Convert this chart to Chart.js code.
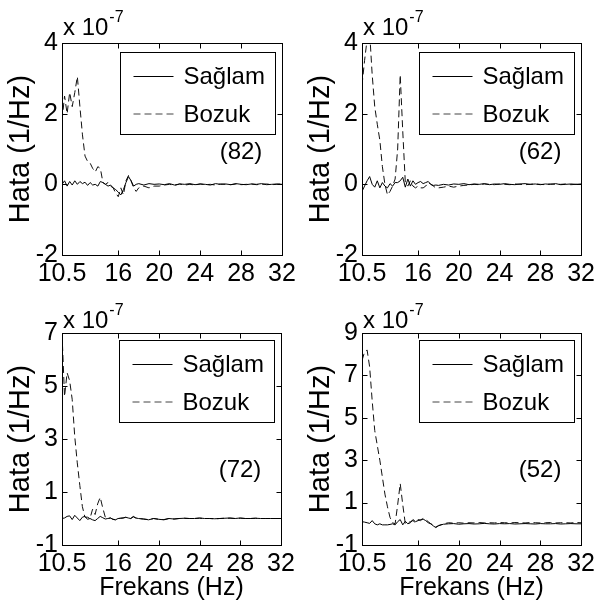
<!DOCTYPE html>
<html>
<head>
<meta charset="utf-8">
<script src="https://cdn.jsdelivr.net/npm/chart.js@4.4.1/dist/chart.umd.min.js"></script>
<style>
    html, body { margin: 0; padding: 0; background: #fff; }
    #wrap { position: relative; width: 599px; height: 612px; overflow: hidden; }
    #wrap canvas { position: absolute; }
</style>
</head>
<body>
<div id="wrap">
    <canvas id="c82" width="300" height="300" style="left:0;top:0"></canvas>
    <canvas id="c62" width="299" height="300" style="left:300px;top:0"></canvas>
    <canvas id="c72" width="300" height="312" style="left:0;top:300px"></canvas>
    <canvas id="c52" width="299" height="312" style="left:300px;top:300px"></canvas>
</div>
<script>
// ================================
// DATA (values x 1e-7, 1/Hz)
// ================================
const freq = [
    10.5, 10.75, 11, 11.25, 11.5, 11.75, 12, 12.25, 12.5, 12.75,
    13, 13.25, 13.5, 13.75, 14, 14.25, 14.5, 14.75, 15, 15.25,
    15.5, 15.75, 16, 16.25, 16.5, 16.75, 17, 17.25, 17.5, 17.75,
    18, 18.5, 19, 19.5, 20, 20.5, 21, 21.5, 22, 22.5,
    23, 23.5, 24, 24.5, 25, 25.5, 26, 26.5, 27, 27.5,
    28, 28.5, 29, 29.5, 30, 30.5, 31, 31.5, 32
];
const xTicks = [10.5, 16, 20, 24, 28, 32];
const seriesLabels = ['Sağlam', 'Bozuk'];
const panelTags = ['(82)', '(62)', '(72)', '(52)'];

const yTicks82 = [-2, 0, 2, 4];
const saglam82 = [
    0.00, 0.10, -0.05, 0.08, -0.02, 0.10, 0.00, 0.08, 0.02, 0.06,
    -0.03, 0.05, -0.02, 0.00, -0.05, 0.08, 0.05, 0.00, -0.05, -0.02,
    -0.10, -0.15, -0.22, -0.30, -0.15, 0.05, 0.22, 0.10, -0.05, 0.00,
    0.02, -0.02, 0.02, 0.00, 0.01, -0.01, 0.02, -0.02, 0.01, 0.00,
    0.02, -0.01, 0.01, 0.00, -0.02, 0.02, 0.00, 0.01, -0.01, 0.02,
    0.00, -0.01, 0.01, 0.00, 0.02, -0.01, 0.00, 0.01, 0.00
];
const bozuk82 = [
    1.80, 2.50, 2.00, 2.60, 2.20, 2.60, 3.05, 2.20, 1.40, 0.80,
    0.65, 0.60, 0.45, 0.35, 0.50, 0.45, 0.05, 0.00, 0.05, -0.05,
    -0.10, -0.25, -0.35, -0.10, -0.30, 0.10, 0.25, 0.10, -0.10, -0.20,
    -0.10, -0.05, -0.10, -0.05, -0.05, -0.02, 0.00, -0.03, 0.01, -0.02,
    0.00, -0.02, 0.01, -0.01, 0.00, -0.02, 0.01, 0.00, -0.01, 0.01,
    -0.01, 0.00, 0.01, -0.01, 0.00, 0.01, -0.01, 0.00, 0.01
];

const yTicks62 = [-2, 0, 2, 4];
const saglam62 = [
    -0.20, -0.05, 0.10, 0.22, 0.00, -0.08, 0.10, -0.10, 0.05, -0.05,
    -0.10, 0.02, -0.05, 0.05, 0.05, 0.10, 0.20, -0.08, 0.15, -0.05,
    0.10, 0.00, 0.05, 0.08, 0.02, 0.05, 0.08, 0.00, -0.03, -0.02,
    -0.03, 0.00, -0.02, 0.01, 0.00, 0.02, -0.01, 0.01, 0.00, 0.02,
    -0.01, 0.01, 0.00, 0.02, 0.00, -0.01, 0.01, 0.02, 0.00, 0.01,
    -0.01, 0.01, 0.00, 0.02, -0.01, 0.00, 0.01, 0.00, 0.01
];
const bozuk62 = [
    2.80, 3.50, 4.10, 4.30, 3.10, 2.20, 1.70, 1.25, 0.50, 0.00,
    -0.30, -0.20, -0.05, 0.15, 1.00, 3.10, 1.50, 0.05, -0.05, 0.10,
    -0.05, -0.10, -0.05, -0.10, -0.10, -0.05, 0.05, 0.00, -0.05, -0.10,
    -0.10, -0.08, -0.05, -0.08, -0.05, -0.03, -0.02, 0.00, -0.01, 0.01,
    0.00, -0.01, 0.01, 0.00, -0.01, 0.01, 0.00, -0.01, 0.00, 0.01,
    0.00, -0.01, 0.01, 0.00, 0.00, 0.01, -0.01, 0.00, 0.00
];

const yTicks72 = [-1, 1, 3, 5, 7];
const saglam72 = [
    0.00, 0.02, 0.08, 0.10, -0.04, 0.12, 0.02, -0.08, 0.05, 0.08,
    -0.03, 0.00, -0.05, -0.08, 0.00, 0.08, 0.03, -0.02, 0.00, 0.02,
    -0.03, -0.05, 0.00, 0.01, 0.02, 0.05, 0.02, 0.00, 0.08, 0.02,
    0.00, -0.02, -0.05, 0.00, -0.03, -0.05, 0.00, -0.02, 0.00, 0.01,
    0.00, 0.00, 0.02, 0.00, 0.00, -0.01, 0.00, 0.01, 0.02, 0.00,
    0.02, 0.00, 0.00, 0.01, 0.00, 0.00, 0.00, 0.00, 0.00
];
const bozuk72 = [
    7.00, 4.60, 5.50, 5.20, 4.50, 3.10, 2.10, 1.25, 0.45, 0.05,
    0.05, 0.00, 0.35, 0.15, 0.55, 0.80, 0.40, 0.05, 0.00, 0.02,
    -0.03, -0.05, 0.00, 0.01, 0.02, 0.04, 0.02, 0.00, 0.06, 0.02,
    0.00, -0.02, -0.04, 0.00, -0.03, -0.04, 0.00, -0.02, 0.00, 0.01,
    0.00, 0.00, 0.01, 0.00, 0.00, -0.01, 0.00, 0.01, 0.01, 0.00,
    0.01, 0.00, 0.00, 0.01, 0.00, 0.00, 0.00, 0.00, 0.00
];

const yTicks52 = [-1, 1, 3, 5, 7, 9];
const saglam52 = [
    0.10, 0.08, 0.05, 0.02, 0.15, 0.00, -0.05, 0.00, -0.05, -0.05,
    -0.05, -0.03, 0.00, -0.05, 0.10, 0.20, -0.05, 0.12, 0.00, 0.05,
    0.20, 0.10, 0.15, 0.20, 0.22, 0.15, 0.05, 0.00, -0.10, -0.18,
    -0.08, -0.02, 0.00, 0.01, -0.02, 0.00, 0.01, -0.01, 0.00, 0.02,
    0.00, -0.01, 0.01, 0.00, 0.01, -0.01, 0.00, 0.01, 0.00, -0.01,
    0.01, 0.00, 0.00, 0.01, -0.01, 0.00, 0.01, 0.00, 0.00
];
const bozuk52 = [
    7.70, 8.10, 8.20, 7.40, 5.80, 4.40, 3.70, 3.00, 2.20, 1.40,
    0.80, 0.30, 0.05, 0.00, 0.90, 1.90, 0.90, 0.00, 0.05, 0.10,
    0.15, 0.05, 0.20, 0.15, 0.25, 0.20, 0.10, 0.00, -0.05, -0.15,
    -0.10, 0.00, 0.05, 0.03, 0.05, 0.03, 0.05, 0.04, 0.06, 0.04,
    0.05, 0.04, 0.06, 0.05, 0.04, 0.06, 0.05, 0.04, 0.06, 0.05,
    0.04, 0.05, 0.06, 0.04, 0.05, 0.05, 0.04, 0.06, 0.05
];

// ================================
// LAYOUT
// ================================
const FONT = 'Arial, "Liberation Sans", sans-serif';

const panels = [
    { id: 'c82', tag: panelTags[0], saglam: saglam82, bozuk: bozuk82, yTicks: yTicks82,
      pad: { left: 0, top: 43, right: 18, bottom: 5 }, xHeight: 40, xTitle: false,
      tagDy: 109, expDy: -8, legDy: 9 },
    { id: 'c62', tag: panelTags[1], saglam: saglam62, bozuk: bozuk62, yTicks: yTicks62,
      pad: { left: 0, top: 43, right: 16, bottom: 5 }, xHeight: 40, xTitle: false,
      tagDy: 109, expDy: -8, legDy: 9 },
    { id: 'c72', tag: panelTags[2], saglam: saglam72, bozuk: bozuk72, yTicks: yTicks72,
      pad: { left: 0, top: 33, right: 19, bottom: 0 }, xHeight: 67, xTitle: true,
      tagDy: 137, expDy: -5, legDy: 7 },
    { id: 'c52', tag: panelTags[3], saglam: saglam52, bozuk: bozuk52, yTicks: yTicks52,
      pad: { left: 0, top: 33, right: 16, bottom: 0 }, xHeight: 67, xTitle: true,
      tagDy: 137, expDy: -5, legDy: 7 }
];

// ================================
// MATLAB-STYLE FRAME / LEGEND PLUGIN
// ================================
const matlabFrame = {
    id: 'matlabFrame',
    afterDraw(chart, args, opts) {
        const { ctx, chartArea: a, scales: { x, y } } = chart;
        const L = Math.round(a.left) + 0.5;
        const R = Math.round(a.right) + 0.5;
        const T = Math.round(a.top) + 0.5;
        const B = Math.round(a.bottom) + 0.5;
        const tl = 5;

        ctx.save();
        ctx.strokeStyle = '#000';
        ctx.lineWidth = 1;
        ctx.setLineDash([]);

        // box
        ctx.strokeRect(L, T, R - L, B - T);

        // inward ticks
        ctx.beginPath();
        x.ticks.forEach(t => {
            const px = Math.round(x.getPixelForValue(t.value)) + 0.5;
            ctx.moveTo(px, B); ctx.lineTo(px, B - tl);
            ctx.moveTo(px, T); ctx.lineTo(px, T + tl);
        });
        y.ticks.forEach(t => {
            const py = Math.round(y.getPixelForValue(t.value)) + 0.5;
            ctx.moveTo(L, py); ctx.lineTo(L + tl, py);
            ctx.moveTo(R, py); ctx.lineTo(R - tl, py);
        });
        ctx.stroke();

        // exponent label
        ctx.fillStyle = '#000';
        ctx.textBaseline = 'alphabetic';
        ctx.textAlign = 'left';
        ctx.font = '24px ' + FONT;
        const ex = a.left + 1;
        const ey = a.top + opts.expDy;
        ctx.fillText('x 10', ex, ey);
        const w = ctx.measureText('x 10').width;
        ctx.font = '16px ' + FONT;
        ctx.fillText('-7', ex + w + 1, ey - 13);

        // legend box
        const bw = 155, bh = 82;
        const bx = Math.round(a.right - 162) + 0.5;
        const by = Math.round(a.top + opts.legDy) + 0.5;
        ctx.fillStyle = '#fff';
        ctx.fillRect(bx, by, bw, bh);
        ctx.strokeRect(bx, by, bw, bh);

        ctx.font = '24px ' + FONT;
        ctx.textBaseline = 'middle';
        chart.data.datasets.forEach((ds, i) => {
            const ry = Math.round(by + 23 + i * 38);
            ctx.strokeStyle = ds.legendColor || ds.borderColor;
            ctx.setLineDash(ds.borderDash || []);
            ctx.beginPath();
            ctx.moveTo(bx + 13, ry + (ds.borderDash ? 0 : 0.5));
            ctx.lineTo(bx + 53, ry + (ds.borderDash ? 0 : 0.5));
            ctx.stroke();
            ctx.fillStyle = '#000';
            ctx.fillText(ds.label, bx + 63, ry + 1);
        });

        // panel tag
        ctx.setLineDash([]);
        ctx.textAlign = 'center';
        ctx.fillText(opts.tag, a.right - 41, a.top + opts.tagDy);

        ctx.restore();
    }
};

// ================================
// BUILD
// ================================
function toPoints(values) {
    return freq.map((f, i) => ({ x: f, y: values[i] }));
}

function renderPanel(p) {
    const canvas = document.getElementById(p.id);
    const yMin = p.yTicks[0];
    const yMax = p.yTicks[p.yTicks.length - 1];

    new Chart(canvas, {
        type: 'line',
        data: {
            datasets: [{
                label: seriesLabels[0],
                data: toPoints(p.saglam),
                borderColor: '#000',
                borderWidth: 1,
                pointRadius: 0,
                tension: 0
            }, {
                label: seriesLabels[1],
                data: toPoints(p.bozuk),
                borderColor: '#111',
                legendColor: '#444',
                borderWidth: 1,
                borderDash: [7, 4],
                pointRadius: 0,
                tension: 0
            }]
        },
        options: {
            responsive: false,
            animation: false,
            devicePixelRatio: 1,
            layout: { padding: p.pad },
            plugins: {
                legend: { display: false },
                tooltip: { enabled: false },
                matlabFrame: { tag: p.tag, tagDy: p.tagDy, expDy: p.expDy, legDy: p.legDy }
            },
            scales: {
                x: {
                    type: 'linear',
                    min: 10.5,
                    max: 32,
                    afterBuildTicks: s => { s.ticks = xTicks.map(v => ({ value: v })); },
                    afterFit: s => { s.height = p.xHeight; },
                    grid: { display: false, drawTicks: false },
                    border: { display: false },
                    ticks: {
                        autoSkip: false,
                        maxRotation: 0,
                        padding: 4,
                        color: '#000',
                        font: { family: FONT, size: 25 }
                    },
                    title: {
                        display: p.xTitle,
                        text: 'Frekans (Hz)',
                        color: '#000',
                        font: { family: FONT, size: 25 },
                        padding: { top: 0, bottom: 9 }
                    }
                },
                y: {
                    min: yMin,
                    max: yMax,
                    afterBuildTicks: s => { s.ticks = p.yTicks.map(v => ({ value: v })); },
                    afterFit: s => { s.width = 62; },
                    grid: { display: false, drawTicks: false },
                    border: { display: false },
                    ticks: {
                        autoSkip: false,
                        padding: 4,
                        color: '#000',
                        font: { family: FONT, size: 25 }
                    },
                    title: {
                        display: true,
                        text: 'Hata (1/Hz)',
                        color: '#000',
                        font: { family: FONT, size: 29 },
                        padding: { top: 4, bottom: 0 }
                    }
                }
            }
        },
        plugins: [matlabFrame]
    });
}

panels.forEach(renderPanel);
</script>
</body>
</html>
